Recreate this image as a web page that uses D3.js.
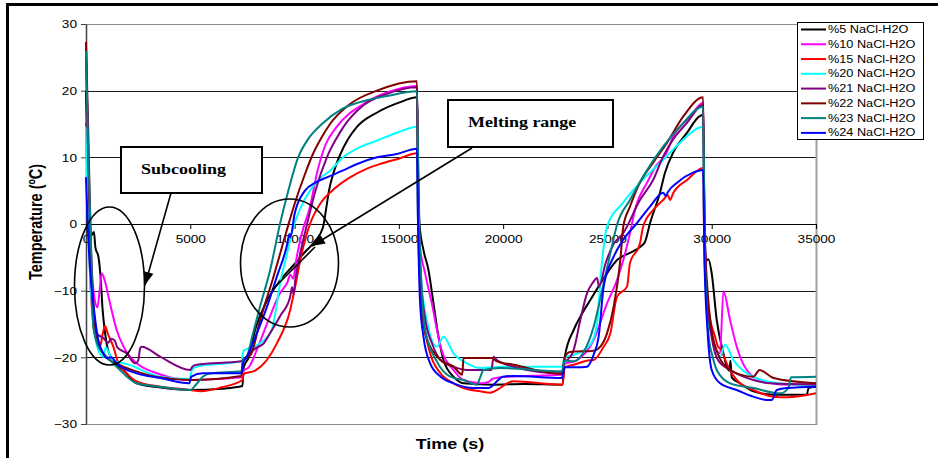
<!DOCTYPE html>
<html>
<head>
<meta charset="utf-8">
<script src="https://cdn.jsdelivr.net/npm/d3@7"></script>
<style>
  body { margin: 0; background: #fff; }
  svg { display: block; }
  text { font-family: "Liberation Sans", Arial, sans-serif; fill: #000; }
</style>
</head>
<body>
<svg id="chart" width="938" height="458"></svg>
<script>
// ---- chart data (time in s, temperature in degC) ----
const seriesNames = ["%5 NaCl-H2O", "%10 NaCl-H2O", "%15 NaCl-H2O", "%20 NaCl-H2O",
                     "%21 NaCl-H2O", "%22 NaCl-H2O", "%23 NaCl-H2O", "%24 NaCl-H2O"];
const seriesColors = ["#000000", "#ff00ff", "#ff0000", "#00ffff",
                      "#800080", "#800000", "#008080", "#0000ff"];
const xTicks = [0, 5000, 10000, 15000, 20000, 25000, 30000, 35000];
const yTicks = [-30, -20, -10, 0, 10, 20, 30];

const s5 = [[0,20],[100,6],[200,-2],[380,-1.2],[450,-3.5],[600,-5],[700,-8],[800,-13],[900,-16],[1070,-19.1],[1390,-20.9],[1800,-21.9],[2430,-23.9],[3500,-24.5],[5000,-24.9],[6500,-24.7],[7500,-24.3],[7560,-21.5],[7800,-20],[8100,-16],[8600,-12],[9300,-8.5],[10000,-6],[10500,-4.2],[11000,-2.5],[11370,-0.4],[11500,2],[11650,5],[11900,8],[12200,10.5],[12560,12.7],[13000,14.6],[14000,16.8],[15000,18.2],[15870,19],[15930,8],[15990,0],[16180,-3.9],[16420,-6.9],[16660,-11.9],[16900,-16.9],[17140,-20.4],[17620,-22.9],[18100,-23.9],[19540,-24.1],[21000,-24],[22850,-24.1],[22950,-20],[23380,-15.9],[23700,-13.9],[24180,-11.4],[24980,-7.4],[25460,-5.4],[26100,-4.3],[26580,-3.4],[26800,-2.7],[27040,0.1],[27520,4.7],[27760,7.7],[28150,10.7],[28820,13.7],[29390,16.1],[29590,16.4],[29650,2],[29720,-5.5],[29840,-5.3],[30000,-7.4],[30240,-14.4],[30560,-19.4],[30720,-21.4],[30850,-22],[30900,-20.5],[30960,-23],[31360,-23.9],[32000,-25.1],[32960,-25.6],[34560,-25.6],[34640,-24.6],[35000,-24.4]];

const s10 = [[0,26],[100,10],[250,-5],[400,-11],[550,-12.5],[650,-10],[750,-7.4],[900,-8.5],[1150,-11.9],[1470,-15.9],[1800,-18.4],[2110,-19.9],[2430,-20.9],[3500,-22.5],[5000,-23.4],[6500,-23.2],[7500,-23],[7560,-22],[7800,-21.5],[8300,-18],[8800,-14],[9300,-10.4],[9650,-8.8],[9800,-7.6],[9930,-8.2],[10100,-5],[10350,-1.4],[10740,2.6],[11100,8],[11500,12],[12000,14.5],[13300,18],[14500,19.8],[15870,20.7],[15920,5],[16000,-3],[16260,-7.4],[16580,-11.9],[17000,-18.4],[17620,-21.9],[18100,-23.4],[18900,-23.9],[19300,-23.7],[19500,-23.2],[20200,-22.9],[22850,-22.6],[22950,-21],[23500,-20.5],[24340,-17.4],[24980,-11.9],[25460,-8.4],[25850,-4.4],[26080,-1.4],[26320,2.1],[26900,6.2],[27400,9],[27600,9.6],[27800,10.5],[28150,13.1],[28970,16.1],[29590,18.2],[29650,0],[29800,-12],[30000,-16.5],[30400,-19.4],[30560,-10.1],[30880,-14.4],[31200,-18.4],[31680,-21.9],[32320,-23.4],[33600,-24.1],[35000,-24]];

const s15 = [[0,15.2],[80,5],[200,-8],[350,-15],[500,-17.5],[670,-18.4],[800,-16.5],[910,-15.3],[1050,-16.5],[1310,-18.4],[1550,-20.9],[1950,-22.4],[2430,-23.6],[3550,-24.4],[5000,-24.9],[5500,-25.1],[6500,-24.5],[7500,-23.4],[7560,-22.5],[8110,-22],[8670,-20.4],[9150,-17.9],[9790,-12.9],[10030,-9.4],[10300,-5],[10740,0],[11220,3],[11800,5],[12660,7],[13400,8.2],[14100,9],[15000,9.8],[15870,10.6],[15920,0],[16050,-10],[16180,-14.4],[16500,-19.4],[17000,-22.4],[17620,-23.9],[18100,-24.6],[18900,-25.1],[19380,-25.3],[19860,-24.6],[20180,-23.9],[20500,-23.6],[22850,-24.1],[22950,-21.5],[23500,-21],[24000,-20.5],[24340,-20.4],[24800,-18.5],[25140,-16.4],[25460,-10.9],[25940,-9.4],[26080,-5.9],[26560,-2.9],[26710,-0.4],[27190,2.1],[27670,3.6],[27900,4.3],[28000,3.6],[28150,4.6],[28820,6.6],[29590,8.4],[29650,-5],[29800,-12],[30160,-16.9],[30300,-18.4],[30450,-18.8],[30600,-20],[30800,-21.5],[31200,-23.4],[32000,-24.9],[32960,-25.9],[33600,-26],[35000,-25.4]];

const s20 = [[0,14.6],[80,3],[200,-8],[350,-14.4],[590,-18.9],[830,-19.9],[950,-18.5],[1050,-19],[1300,-20.5],[1950,-21],[3550,-22.9],[4950,-23.25],[5100,-21.8],[5300,-21.4],[7450,-20.6],[7560,-19],[8000,-18.5],[8500,-17.5],[8900,-16],[9150,-12],[9300,-9],[9600,-5],[9890,-1],[10300,2.5],[10740,5],[11200,6.8],[11700,8],[12330,10],[13000,11.3],[13950,12.5],[15000,13.8],[15870,14.6],[15920,0],[16100,-9.4],[16340,-14.4],[16820,-18.4],[17140,-16.9],[17620,-19.4],[18260,-20.9],[18900,-21.6],[20000,-21.4],[22820,-21.4],[22950,-20],[23500,-19.5],[24200,-18],[24500,-15],[24700,-7],[24980,-0.4],[25750,3.2],[26560,6.2],[27670,9.6],[28480,12.2],[29440,14.5],[29590,14.6],[29650,-5],[29850,-14],[30160,-18.4],[30400,-19.9],[30640,-18.1],[31040,-20.4],[31680,-22.4],[32320,-23.3],[33600,-24],[35000,-24.2]];

const s21 = [[0,26.5],[100,10],[250,-8],[350,-14.4],[510,-16.4],[830,-17.1],[1070,-17.8],[1200,-17.2],[1360,-17.4],[1500,-18.5],[1950,-19.4],[2350,-20.9],[2500,-20.5],[2600,-18.6],[2670,-18.4],[3550,-19.9],[5000,-21.9],[5100,-21.4],[5300,-21.1],[7450,-20.6],[7560,-20.3],[8200,-18.5],[8490,-18],[8800,-16.5],[9310,-13.8],[9790,-10.9],[9880,-9.5],[9950,-10.5],[10050,-8],[10270,-4.4],[10600,0],[11000,5],[11550,10],[12000,12.8],[12330,14.5],[13300,17.8],[14500,19.6],[15870,20.5],[15920,5],[16050,-8],[16250,-14],[16600,-18],[17000,-20.4],[17620,-21.4],[18260,-21.9],[19440,-21.9],[19540,-19.9],[19700,-20.4],[20500,-21.4],[22820,-22.4],[22950,-20.5],[23060,-20.4],[23380,-18.9],[23700,-14.4],[24020,-10.4],[24300,-8.8],[24500,-8.1],[24600,-9.4],[24900,-6],[25300,-3],[25750,-1.4],[26560,3.6],[27190,6.6],[27670,10.1],[28150,12.7],[28820,15.2],[29590,17.9],[29650,0],[29800,-12],[30000,-17],[30300,-20.4],[30880,-21.9],[32000,-23.4],[32800,-23.9],[35000,-24.1]];

const s22 = [[0,27.3],[100,15],[250,-5],[400,-14],[600,-18],[900,-19.8],[1500,-21],[2300,-22],[3500,-23],[5000,-23.4],[7450,-22.8],[7530,-20.4],[7900,-19.6],[8350,-14.4],[8990,-7.9],[9630,-0.9],[10000,3],[10500,7.5],[10880,10.5],[11300,13],[11700,15],[12660,18],[13950,20],[15870,21.4],[15920,5],[16050,-10],[16260,-16.4],[17000,-20.4],[17620,-21.4],[18040,-22.6],[18100,-20.1],[19460,-20.1],[19700,-20.6],[20500,-21.1],[22820,-22.5],[22950,-20],[23200,-19.2],[24340,-19],[24660,-18.4],[24980,-16.4],[25300,-12.4],[25620,-5.4],[25760,-0.4],[26080,2.6],[26560,6.2],[27190,9.2],[27860,12.2],[28630,16.1],[29590,19],[29650,0],[29800,-10],[30000,-16],[30300,-19.5],[30880,-21.9],[32000,-22.9],[32290,-21.9],[32960,-23.1],[35000,-23.9]];

const s23 = [[0,26],[100,12],[250,-4],[350,-15.4],[590,-18.4],[990,-19.9],[1470,-21.4],[2430,-23.9],[3550,-24.4],[5000,-24.9],[5300,-24],[5600,-22.9],[6000,-22.4],[7450,-22.1],[7530,-20.5],[7700,-20],[8000,-16.5],[8350,-12.3],[8830,-6.9],[9300,0],[9700,5],[10170,10],[10640,12.7],[11310,15],[12300,17.3],[13500,18.6],[14430,19.2],[15870,19.9],[15940,5],[16100,-10],[16260,-15.9],[16800,-20.5],[17460,-22.9],[18100,-23.4],[18740,-24.1],[18900,-23],[19060,-21.9],[19860,-21.6],[22820,-22.1],[22950,-20.5],[23400,-20.6],[23800,-19.5],[24340,-15.4],[24820,-8.9],[25140,-4.4],[25460,-0.1],[26080,3.6],[26900,8.1],[27670,11.6],[28480,14.6],[29590,17.6],[29650,0],[29750,-12],[29900,-18],[30000,-19.4],[30240,-21.9],[30880,-23.9],[32000,-24.6],[33280,-25.4],[33680,-24.6],[33800,-23],[35000,-22.9]];

const s24 = [[0,7],[80,0],[200,-7],[350,-11.9],[590,-17.4],[830,-19.4],[990,-20.1],[1200,-20],[1500,-21],[2430,-22.4],[3550,-23.1],[4950,-23.9],[5050,-22.9],[5600,-22.4],[7450,-22.4],[7530,-20.9],[7700,-20],[8190,-16.4],[8680,-12.4],[9150,-7.9],[9650,-3],[9750,-1.5],[9800,-2],[10000,1.5],[10500,5],[11000,6.2],[11550,7],[12300,8],[13000,9],[13950,10],[14900,10.5],[15870,11.3],[15920,0],[16020,-11.9],[16180,-16.9],[16500,-20.9],[17000,-22.9],[17620,-23.9],[18580,-24.6],[19300,-24.6],[19540,-24.1],[19980,-22.9],[20500,-22.8],[22820,-23.1],[22950,-21.5],[23500,-21.5],[24020,-21.4],[24340,-19.6],[24580,-16.9],[24820,-9.4],[25300,-4.9],[25750,-2.4],[26420,0.15],[27040,2.6],[27670,4.7],[27800,4.2],[27900,4.8],[28340,6.2],[29100,7.7],[29590,8.1],[29650,-5],[29800,-16],[30000,-21.9],[30400,-23.9],[31200,-24.9],[32000,-25.9],[32640,-26.4],[32880,-26.4],[33120,-24.9],[33600,-24.6],[35000,-24.4]];

const seriesData = [s5, s10, s15, s20, s21, s22, s23, s24];

// annotations, in data units (time s, temperature degC)
const subcoolBox = [1678, 11.55, 8438, 4.65];      // t1, T1, t2, T2
const subcoolText = [2637, 7.5];
const subcoolArrow = [4075, 4.65, 2829, -9.15];
const subcoolEllipse = [1127, -9.3, 1678, 11.85];  // centre t, centre T, rx (s), ry (degC)
const meltBox = [17356, 18.6, 25267, 11.55];
const meltText = [18315, 14.55];
const meltArrow = [18507, 11.4, 10836, -3.3];
const meltTail = [10979, -3.45, 8918, -9.9];
const meltEllipse = [9757, -5.85, 2349, 9.6];

// ---- drawing ----
const SX = 1.24; // the source chart is stretched horizontally
const svg = d3.select("#chart");

const x = d3.scaleLinear().domain([0, 35000]).range([86, 816]);
const y = d3.scaleLinear().domain([-30, 30]).range([424, 24]);

// outer frame (only top and left visible)
svg.append("path")
   .attr("d", "M6,4.5H940M7.5,3V460")
   .attr("stroke", "#000").attr("stroke-width", 3).attr("fill", "none");

// gridlines
svg.append("g").selectAll("line")
   .data(yTicks.filter(d => d !== 0 && d !== 30 && d !== -30))
   .enter().append("line")
   .attr("x1", x(0)).attr("x2", x(35000))
   .attr("y1", d => Math.round(y(d)) + 0.5).attr("y2", d => Math.round(y(d)) + 0.5)
   .attr("stroke", "#1a1a1a").attr("stroke-width", 1);

// plot area border
svg.append("rect")
   .attr("x", x(0) + 0.5).attr("y", y(30) + 0.5)
   .attr("width", x(35000) - x(0)).attr("height", y(-30) - y(30))
   .attr("fill", "none").attr("stroke", "#8c8c8c").attr("stroke-width", 1);
svg.append("line")
   .attr("x1", x(35000) + 0.5).attr("x2", x(35000) + 0.5)
   .attr("y1", y(30)).attr("y2", y(-30) + 1)
   .attr("stroke", "#a0a0a0").attr("stroke-width", 2);

// y axis
const yAxis = svg.append("g")
   .attr("transform", `translate(${x(0)},0)`)
   .call(d3.axisLeft(y).tickValues(yTicks).tickSize(5).tickSizeOuter(0));
yAxis.select(".domain").attr("stroke", "#404040").attr("stroke-width", 1.5);
yAxis.selectAll(".tick line").attr("stroke", "#404040");
yAxis.selectAll(".tick text")
   .attr("x", -9 / SX).attr("dy", "0.34em")
   .attr("transform", `scale(${SX},1)`)
   .style("font-size", "11px").attr("fill", "#000");

// x axis at T = 0
const xAxis = svg.append("g")
   .attr("transform", `translate(0,${y(0)})`)
   .call(d3.axisBottom(x).tickValues(xTicks).tickFormat(d3.format("d"))
           .tickSize(5).tickSizeOuter(0));
xAxis.select(".domain").attr("stroke", "#000").attr("stroke-width", 1.2);
xAxis.selectAll(".tick line").attr("stroke", "#000");
xAxis.selectAll(".tick text")
   .attr("y", 19).attr("dy", 0)
   .attr("transform", `scale(${SX},1)`)
   .style("font-size", "11px").attr("fill", "#000");

// axis titles
svg.append("text")
   .attr("transform", `translate(42,222) scale(${SX},1) rotate(-90)`)
   .attr("text-anchor", "middle")
   .style("font-size", "14.5px").style("font-weight", "bold")
   .text("Temperature (ºC)");

svg.append("text")
   .attr("transform", `translate(450,449) scale(${SX},1)`)
   .attr("text-anchor", "middle")
   .style("font-size", "14.5px").style("font-weight", "bold")
   .text("Time (s)");

// series lines
const line = d3.line()
   .x(d => x(d[0]))
   .y(d => y(d[1]))
   .curve(d3.curveMonotoneX);

svg.append("g").selectAll("path")
   .data(seriesData)
   .enter().append("path")
   .attr("d", line)
   .attr("fill", "none")
   .attr("stroke", (d, i) => seriesColors[i])
   .attr("stroke-width", 2)
   .attr("stroke-linejoin", "round");

// annotations
const ann = svg.append("g").attr("stroke", "#000").attr("fill", "none");

function ellipse(e) {
  ann.append("ellipse")
     .attr("cx", x(e[0])).attr("cy", y(e[1]))
     .attr("rx", x(e[2]) - x(0)).attr("ry", y(0) - y(e[3]))
     .attr("stroke-width", 1.6);
}
ellipse(subcoolEllipse);
ellipse(meltEllipse);

function arrow(a, withHead) {
  const x1 = x(a[0]), y1 = y(a[1]), x2 = x(a[2]), y2 = y(a[3]);
  ann.append("line")
     .attr("x1", x1).attr("y1", y1).attr("x2", x2).attr("y2", y2)
     .attr("stroke-width", 1.6);
  if (!withHead) return;
  const ang = Math.atan2(y2 - y1, x2 - x1);
  const len = 13, hw = 5;
  const bx = x2 - len * Math.cos(ang), by = y2 - len * Math.sin(ang);
  const px = -Math.sin(ang) * hw, py = Math.cos(ang) * hw;
  ann.append("path")
     .attr("d", `M${x2},${y2}L${bx + px},${by + py}L${bx - px},${by - py}Z`)
     .attr("fill", "#000").attr("stroke", "none");
}
arrow(subcoolArrow, true);
arrow(meltArrow, true);
arrow(meltTail, false);

function box(b, t, str) {
  ann.append("rect")
     .attr("x", x(b[0])).attr("y", y(b[1]))
     .attr("width", x(b[2]) - x(b[0])).attr("height", y(b[3]) - y(b[1]))
     .attr("fill", "#fff").attr("stroke", "#000").attr("stroke-width", 2);
  svg.append("text")
     .attr("transform", `translate(${x(t[0])},${y(t[1])}) scale(${SX},1)`)
     .style("font-family", "'Liberation Serif', 'Times New Roman', serif")
     .style("font-size", "14.5px").style("font-weight", "bold")
     .text(str);
}
box(subcoolBox, subcoolText, "Subcooling");
box(meltBox, meltText, "Melting range");

// legend
const legend = svg.append("g").attr("transform", "translate(797,22)");
legend.append("rect")
   .attr("x", 0.5).attr("y", 0.5).attr("width", 126).attr("height", 117)
   .attr("fill", "#fff").attr("stroke", "#000").attr("stroke-width", 1);

const items = legend.selectAll("g.item")
   .data(seriesNames)
   .enter().append("g")
   .attr("class", "item")
   .attr("transform", (d, i) => `translate(0,${7.5 + i * 14.77})`);

items.append("line")
   .attr("x1", 4).attr("x2", 29)
   .attr("stroke", (d, i) => seriesColors[i])
   .attr("stroke-width", 2);

items.append("text")
   .attr("transform", `translate(31,0) scale(1.27,1)`)
   .attr("dy", "0.36em")
   .style("font-size", "10px")
   .text(d => d);
</script>
</body>
</html>
